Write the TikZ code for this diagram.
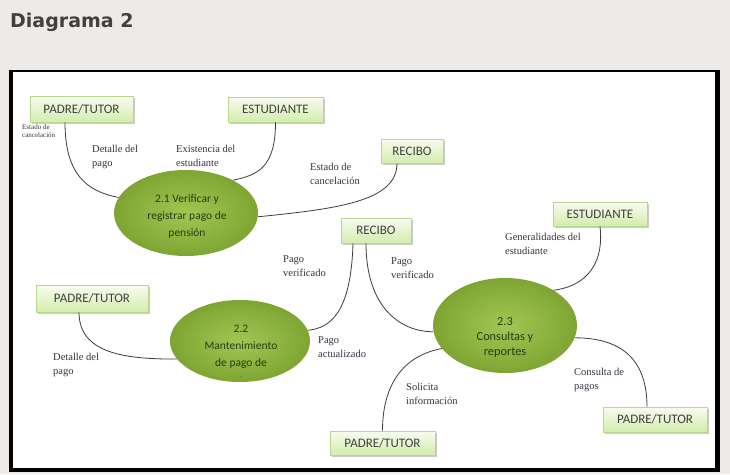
\documentclass[tikz,border=0pt]{standalone}
\usepackage{fontspec}
\setmainfont{Liberation Serif}
\newfontfamily\boxfont{Carlito}
\newfontfamily\titlefont{DejaVu Sans}
\usetikzlibrary{shapes.geometric,shadows}
\definecolor{bgc}{HTML}{EEEAE7}
\definecolor{boxtop}{HTML}{F8FCEF}
\definecolor{boxbot}{HTML}{D3ECAE}
\definecolor{boxline}{HTML}{B8D892}
\definecolor{ellin}{HTML}{A2C653}
\definecolor{ellout}{HTML}{7EA532}
\definecolor{etxt}{HTML}{2C3A12}
\definecolor{lab}{HTML}{3A3040}
\definecolor{wire}{HTML}{3C3C3C}
\tikzset{
  entity/.style={draw=boxline, line width=0.6pt, top color=boxtop, bottom color=boxbot,
    font=\boxfont\fontsize{13}{15}\selectfont, text=black!75, inner sep=0pt,
    drop shadow={shadow xshift=1.5pt, shadow yshift=-1.5pt, fill=black!45, opacity=0.45}},
  proc/.style={ellipse, draw=none, inner color=ellin, outer color=ellout, inner sep=0pt},
  ptext/.style={align=center, text=etxt, font=\boxfont\fontsize{11.5}{17}\selectfont, inner sep=0pt},
  flowlab/.style={anchor=north west, align=left, inner sep=0pt, text=lab,
    font=\fontsize{10.5}{14}\selectfont},
  wireline/.style={draw=wire, line width=0.8pt}
}
\begin{document}
\begin{tikzpicture}[x=1pt,y=-1pt]
\useasboundingbox (0,0) rectangle (730,474);
\fill[bgc] (0,0) rectangle (730,474);
\node[anchor=north west, inner sep=0pt, text=black!75, font=\titlefont\bfseries\fontsize{19}{22}\selectfont] (title) at (10,12.5) {Diagrama 2};
% frame
\fill[black] (8.5,69.5) rectangle (719.5,472);
\fill[white] (13,71.5) rectangle (715,467.5);

% entities
\node[entity, minimum width=103pt, minimum height=26pt] (pt1) at (81.5,109) {PADRE/TUTOR};
\node[entity, minimum width=95pt, minimum height=25pt] (est1) at (275.5,109.5) {ESTUDIANTE};
\node[entity, minimum width=62pt, minimum height=24pt] (rec1) at (412,151) {RECIBO};
\node[entity, minimum width=70pt, minimum height=25pt] (rec2) at (376,230.5) {RECIBO};
\node[entity, minimum width=94pt, minimum height=24pt] (est2) at (600,214) {ESTUDIANTE};
\node[entity, minimum width=112pt, minimum height=27pt] (pt2) at (92,298.5) {PADRE/TUTOR};
\node[entity, minimum width=105pt, minimum height=24pt] (pt3) at (382.5,443) {PADRE/TUTOR};
\node[entity, minimum width=104pt, minimum height=25pt] (pt4) at (655,419.5) {PADRE/TUTOR};

% processes
\node[proc, minimum width=144pt, minimum height=86pt] (e21) at (186,213) {};
\node[proc, minimum width=140pt, minimum height=82pt] (e22) at (240,341) {};
\node[proc, minimum width=144pt, minimum height=95pt] (e23) at (505,325.5) {};
\node[ptext] (t21) at (187,216) {2.1 Verificar y\\registrar pago de\\pensión};
\node[ptext] (t22) at (241,351) {2.2\\Mantenimiento\\de pago de\\[-6pt]{\fontsize{6}{6}\selectfont .}};
\node[ptext, font=\boxfont\fontsize{12.3}{15}\selectfont] (t23) at (505,337) {2.3\\Consultas y\\reportes};

% connectors
\draw[wireline] ([xshift=-16.5pt]pt1.south) .. controls +(0,52) and +(-32,-6) .. (e21.167);
\draw[wireline] (est1.south) .. controls +(0,45) and +(25,-5) .. (e21.35);
\draw[wireline] ([xshift=-15pt]rec1.south) .. controls +(0,38) and +(80,-8) .. (e21.-3);
\draw[wireline] ([xshift=-23pt]rec2.south) .. controls +(-2,70) and +(22,-2) .. (e22.9);
\draw[wireline] ([xshift=-10pt]rec2.south) .. controls +(0,62) and +(-35,0) .. (e23.185);
\draw[wireline] (est2.south) .. controls +(5,45) and +(25,-3) .. (e23.36);
\draw[wireline] ([xshift=-13pt]pt2.south) .. controls +(0,42) and +(-50,0) .. (e22.196);
\draw[wireline] (e23.200) .. controls +(-42,8) and +(0,-42) .. (pt3.north);
\draw[wireline] (e23.350) .. controls +(52,0) and +(0,-42) .. ([xshift=-8pt]pt4.north);

% flow labels
\node[flowlab, font=\fontsize{7}{8.5}\selectfont] (l0) at (22,124) {Estado de\\cancelación};
\node[flowlab] (l1) at (92,145) {Detalle del\\pago};
\node[flowlab] (l2) at (176,145) {Existencia del\\estudiante};
\node[flowlab] (l3) at (310,163) {Estado de\\cancelación};
\node[flowlab] (l4) at (283,255) {Pago\\verificado};
\node[flowlab] (l5) at (391,257) {Pago\\verificado};
\node[flowlab] (l6) at (505,233) {Generalidades del\\estudiante};
\node[flowlab] (l7) at (318,336) {Pago\\actualizado};
\node[flowlab] (l8) at (53,353) {Detalle del\\pago};
\node[flowlab] (l9) at (406,383) {Solicita\\información};
\node[flowlab] (l10) at (574,368) {Consulta de\\pagos};
\end{tikzpicture}
\end{document}
